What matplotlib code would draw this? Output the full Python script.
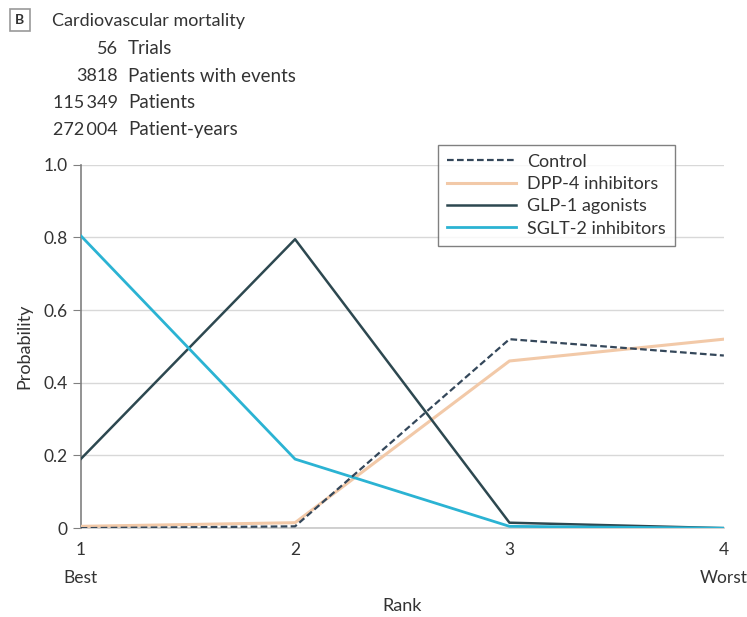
import matplotlib.pyplot as plt
from matplotlib.patches import Rectangle

plt.rcParams['font.family'] = ['Lato', 'DejaVu Sans']

ranks = [1, 2, 3, 4]
rank_labels = ['1\nBest', '2', '3', '4\nWorst']
control = [0.0, 0.005, 0.52, 0.475]
dpp4 = [0.005, 0.015, 0.46, 0.52]
glp1 = [0.19, 0.795, 0.015, 0.0]
sglt2 = [0.805, 0.19, 0.005, 0.0]

header_nums = ['56', '3818', '115\u2009349', '272\u2009004']
header_txt = ['Trials', 'Patients with events', 'Patients', 'Patient-years']

fig = plt.figure(figsize=(7.47, 6.17), dpi=100)
ax = fig.add_axes([0.108, 0.144, 0.861, 0.589])

ax.plot(ranks, control, color='#34475a', lw=1.6, ls=(0, (3, 1.5)), label='Control', zorder=4)
ax.plot(ranks, dpp4, color='#f2c9a8', lw=2.2, label='DPP-4 inhibitors', zorder=3)
ax.plot(ranks, glp1, color='#2d4850', lw=1.8, label='GLP-1 agonists', zorder=3)
ax.plot(ranks, sglt2, color='#2bb3d3', lw=2.0, label='SGLT-2 inhibitors', zorder=3)

ax.set_xlim(1, 4)
ax.set_ylim(0, 1.0)
ax.set_yticks([0, 0.2, 0.4, 0.6, 0.8, 1.0])
ax.set_yticklabels(['0', '0.2', '0.4', '0.6', '0.8', '1.0'])
ax.set_xticks(ranks)
ax.set_xticklabels(rank_labels, linespacing=1.9)
ax.grid(axis='y', color='#d8d8d8', lw=1)
ax.axhline(0, color='#c8c8c8', lw=1.2, zorder=1, clip_on=False)
ax.set_axisbelow(True)
for s in ['top', 'right', 'bottom']:
    ax.spines[s].set_visible(False)
ax.spines['left'].set_color('#808080')
ax.spines['left'].set_linewidth(1.2)
ax.tick_params(axis='y', length=6, color='#808080', labelsize=12.5, labelcolor='#333333')
ax.tick_params(axis='x', length=0, labelsize=12.5, labelcolor='#333333', pad=10)
ax.set_ylabel('Probability', fontsize=13, color='#333333', labelpad=8)
ax.set_xlabel('Rank', fontsize=13, color='#333333', labelpad=9)

leg = ax.legend(loc='upper left', bbox_to_anchor=(0.542, 1.08), fontsize=13, frameon=True,
                fancybox=False, edgecolor='#606060', handlelength=3.8, borderpad=0.5,
                labelspacing=0.35, handletextpad=0.6)
leg.get_frame().set_linewidth(1.0)
for t in leg.get_texts():
    t.set_color('#333333')

# header block
fig.patches.append(Rectangle((10 / 747, 1 - 31 / 617), 20 / 747, 22 / 617,
                             transform=fig.transFigure, fill=False, ec='#999999', lw=1.2))
fig.text(20 / 747, 1 - 20 / 617, 'B', fontsize=10, fontweight='bold', ha='center', va='center', color='#333333')
fig.text(52 / 747, 1 - 21 / 617, 'Cardiovascular mortality', fontsize=13, va='center', color='#333333')
for i, (n, t) in enumerate(zip(header_nums, header_txt)):
    y = 1 - (49 + i * 27) / 617
    fig.text(118 / 747, y, n, fontsize=13, ha='right', va='center', color='#333333')
    fig.text(128 / 747, y, t, fontsize=13.5, ha='left', va='center', color='#333333')

fig.savefig('out.png', dpi=100)
